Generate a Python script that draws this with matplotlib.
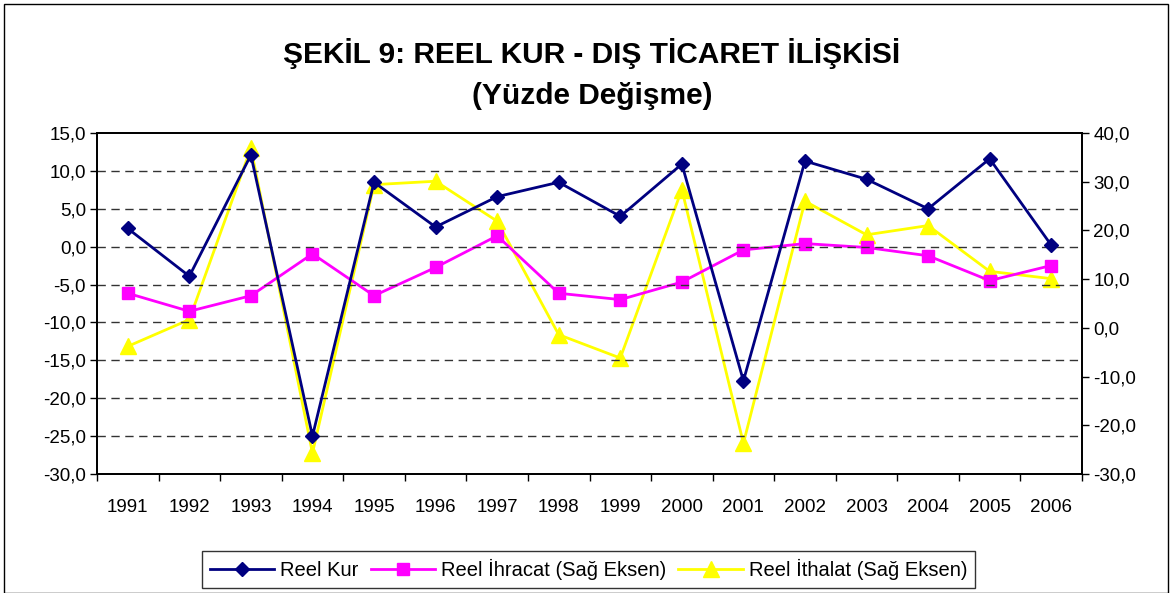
import matplotlib
matplotlib.use("Agg")
import matplotlib.pyplot as plt
import numpy as np
from matplotlib.patches import Rectangle

plt.rcParams['font.family'] = ['Liberation Sans', 'DejaVu Sans']

years = ['1991', '1992', '1993', '1994', '1995', '1996', '1997', '1998',
         '1999', '2000', '2001', '2002', '2003', '2004', '2005', '2006']
reel_kur = [2.4, -3.9, 12.1, -25.0, 8.5, 2.6, 6.6, 8.5,
            4.0, 10.9, -17.7, 11.3, 8.9, 5.0, 11.6, 0.2]
reel_ihracat = [7.1, 3.4, 6.6, 15.2, 6.6, 12.4, 18.9, 7.1,
                5.8, 9.4, 16.0, 17.3, 16.5, 14.8, 9.7, 12.8]
reel_ithalat = [-3.8, 1.7, 36.9, -25.7, 29.4, 30.1, 21.9, -1.4,
                -6.2, 28.4, -23.7, 26.0, 19.1, 21.0, 11.6, 10.1]

left_ticks = [15, 10, 5, 0, -5, -10, -15, -20, -25, -30]
right_ticks = [40, 30, 20, 10, 0, -10, -20, -30]

title1 = 'ŞEKİL 9: REEL KUR - DIŞ TİCARET İLİŞKİSİ'
title2 = '(Yüzde Değişme)'
labels = ['Reel Kur', 'Reel İhracat (Sağ Eksen)', 'Reel İthalat (Sağ Eksen)']

fig = plt.figure(figsize=(11.7, 5.93), dpi=100)
fig.patches.append(Rectangle((0.003, 0.0), 0.995, 0.993, transform=fig.transFigure,
                             fill=False, edgecolor='#000000', linewidth=1.0))

ax = fig.add_axes([0.0829, 0.2007, 0.8419, 0.575])
ax2 = ax.twinx()

x = np.arange(len(years))

def fmt(v):
    return ('%.1f' % v).replace('.', ',')

ax.set_ylim(-30, 15)
ax.set_yticks(left_ticks)
ax.set_yticklabels([fmt(v) for v in left_ticks])
ax2.set_ylim(-30, 40)
ax2.set_yticks(right_ticks)
ax2.set_yticklabels([fmt(v) for v in right_ticks])
ax.set_xlim(-0.5, len(years) - 0.5)
ax.set_xticks(x)
ax.set_xticklabels(years)
ax.set_xticks(np.arange(-0.5, len(years), 1.0), minor=True)
ax.tick_params(axis='x', which='major', length=0, pad=18, labelsize=13.5)
ax.tick_params(axis='x', which='minor', length=5, width=1)
ax.tick_params(axis='y', length=5, width=1, labelsize=13.5, pad=3)
ax2.tick_params(axis='y', length=5, width=1, labelsize=13.5, pad=3)

for v in left_ticks[1:-1]:
    ax.axhline(v, color='#333333', linestyle=(0, (6, 4)), linewidth=1.0, zorder=0)

for a in (ax, ax2):
    for s in a.spines.values():
        s.set_linewidth(1.3)
        s.set_color('black')

l1, = ax.plot(x, reel_kur, color='#000080', marker='D', markersize=7,
              linewidth=2, zorder=5)
l2, = ax2.plot(x, reel_ihracat, color='#FF00FF', marker='s', markersize=8,
               linewidth=2, zorder=4)
l3, = ax2.plot(x, reel_ithalat, color='#FFFF00', marker='^', markersize=11,
               linewidth=2, zorder=3)
ax.set_zorder(ax2.get_zorder() + 1)
ax.patch.set_visible(False)

fig.text(0.506, 0.910, title1, ha='center', va='center', fontsize=21.5, fontweight='bold')
fig.text(0.506, 0.838, title2, ha='center', va='center', fontsize=21.5, fontweight='bold')

leg = fig.legend([l1, l2, l3], labels, loc='center', bbox_to_anchor=(0.503, 0.039),
                 ncol=3, frameon=True, fontsize=14.5, handlelength=3.2,
                 columnspacing=0.6, handletextpad=0.3, borderpad=0.4, fancybox=False)
leg.get_frame().set_edgecolor('black')
leg.get_frame().set_linewidth(1.0)

fig.savefig('out.png', dpi=100)
